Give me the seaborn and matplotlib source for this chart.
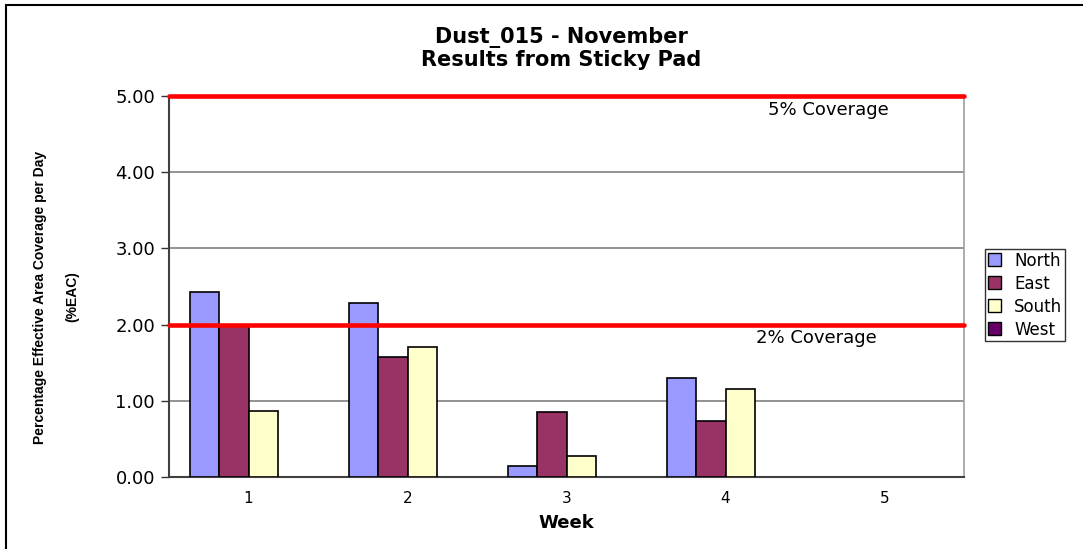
import pandas as pd
import numpy as np
import matplotlib
matplotlib.use("Agg")
import matplotlib.pyplot as plt
import matplotlib.patches as mpatches
import seaborn as sns

# data
weeks = [1, 2, 3, 4, 5]
directions = ["North", "East", "South", "West"]
north = [2.43, 2.29, 0.14, 1.30, np.nan]
east = [1.99, 1.58, 0.85, 0.73, np.nan]
south = [0.86, 1.71, 0.28, 1.16, np.nan]
west = [np.nan, np.nan, np.nan, np.nan, np.nan]
limits = [5.0, 2.0]
limit_labels = ["5% Coverage", "2% Coverage"]
colors = ["#9999FF", "#993366", "#FFFFCC", "#660066"]

rows = []
for d, vals in zip(directions, [north, east, south, west]):
    for w, v in zip(weeks, vals):
        rows.append({"week": w, "direction": d, "value": v})
df = pd.DataFrame(rows)

sns.set_style("white")
plt.rcParams["font.family"] = ["DejaVu Sans"]
plt.rcParams["text.color"] = "black"
plt.rcParams["xtick.color"] = "black"
plt.rcParams["ytick.color"] = "black"
plt.rcParams["axes.labelcolor"] = "black"
narrow = ["Liberation Sans Narrow", "Liberation Sans", "DejaVu Sans"]

fig = plt.figure(figsize=(10.83, 5.49), dpi=100)
ax = fig.add_axes([169 / 1083, 1 - 477 / 549, 795 / 1083, 381 / 549])

sns.barplot(data=df, x="week", y="value", hue="direction", order=weeks,
            hue_order=directions, palette=colors, saturation=1, width=0.73, gap=0,
            edgecolor="black", linewidth=1.2, errorbar=None, ax=ax,
            legend=True, zorder=3)

ax.set_xlim(-0.5, 4.5)
ax.set_ylim(0, 5)
ax.set_yticks([0, 1, 2, 3, 4, 5])
ax.set_yticklabels([f"{v:.2f}" for v in [0, 1, 2, 3, 4, 5]], fontsize=13)
ax.yaxis.grid(True, color="#808080", linewidth=1.2, zorder=0)
ax.set_axisbelow(True)

# ticks at category boundaries, labels at centres
ax.set_xticks(np.arange(-0.5, 5, 1))
ax.set_xticklabels([])
ax.set_xticks(np.arange(0, 5), minor=True)
ax.set_xticklabels([str(w) for w in weeks], minor=True, fontsize=11)
ax.tick_params(axis="x", which="major", length=6, width=1, color="#333333", direction="out")
ax.tick_params(axis="x", which="minor", length=0, pad=10)
ax.tick_params(axis="y", length=6, width=1, color="#333333", direction="out", pad=4, left=True)

for side in ["left", "bottom"]:
    ax.spines[side].set_color("#404040")
    ax.spines[side].set_linewidth(1.5)
ax.spines["right"].set_color("#a0a0a0")
ax.spines["right"].set_linewidth(1.2)
ax.spines["top"].set_visible(False)

for y in limits:
    ax.axhline(y, color="#FF0000", linewidth=3.3, zorder=5, clip_on=False)
ax.text(3.65, 4.82, limit_labels[0], fontsize=13, ha="center", va="center")
ax.text(3.57, 1.83, limit_labels[1], fontsize=13, ha="center", va="center")

ax.set_xlabel("Week", fontsize=13, fontweight="bold", labelpad=6)
ax.set_ylabel("")
fig.text(40 / 1083, 1 - 297 / 549, "Percentage Effective Area Coverage per Day",
         rotation=90, fontsize=10, fontweight="bold", ha="center", va="center",
         family=narrow)
fig.text(72 / 1083, 1 - 297 / 549, "(%EAC)", rotation=90, fontsize=10,
         fontweight="bold", ha="center", va="center", family=narrow)

fig.text(561 / 1083, 1 - 38 / 549, "Dust_015 - November", fontsize=15,
         fontweight="bold", ha="center", va="center")
fig.text(561 / 1083, 1 - 60 / 549, "Results from Sticky Pad", fontsize=15,
         fontweight="bold", ha="center", va="center")

handles = [mpatches.Patch(facecolor=c, edgecolor="black", linewidth=1) for c in colors]
leg = ax.legend(handles, directions, loc="upper left",
                bbox_to_anchor=(985 / 1083, 1 - 249 / 549), bbox_transform=fig.transFigure,
                fontsize=12, frameon=True, fancybox=False, edgecolor="black",
                handlelength=0.8, handleheight=0.8, handletextpad=0.8,
                labelspacing=0.3, borderpad=0.15, borderaxespad=0)
leg.get_frame().set_linewidth(1)

# outer chart border
fig.patches.append(mpatches.Rectangle((6 / 1083, -0.1), 1.2, 1 - 5 / 549 + 0.1,
                                      transform=fig.transFigure, fill=False,
                                      edgecolor="black", linewidth=1.5))

fig.savefig("out.png", dpi=100)
